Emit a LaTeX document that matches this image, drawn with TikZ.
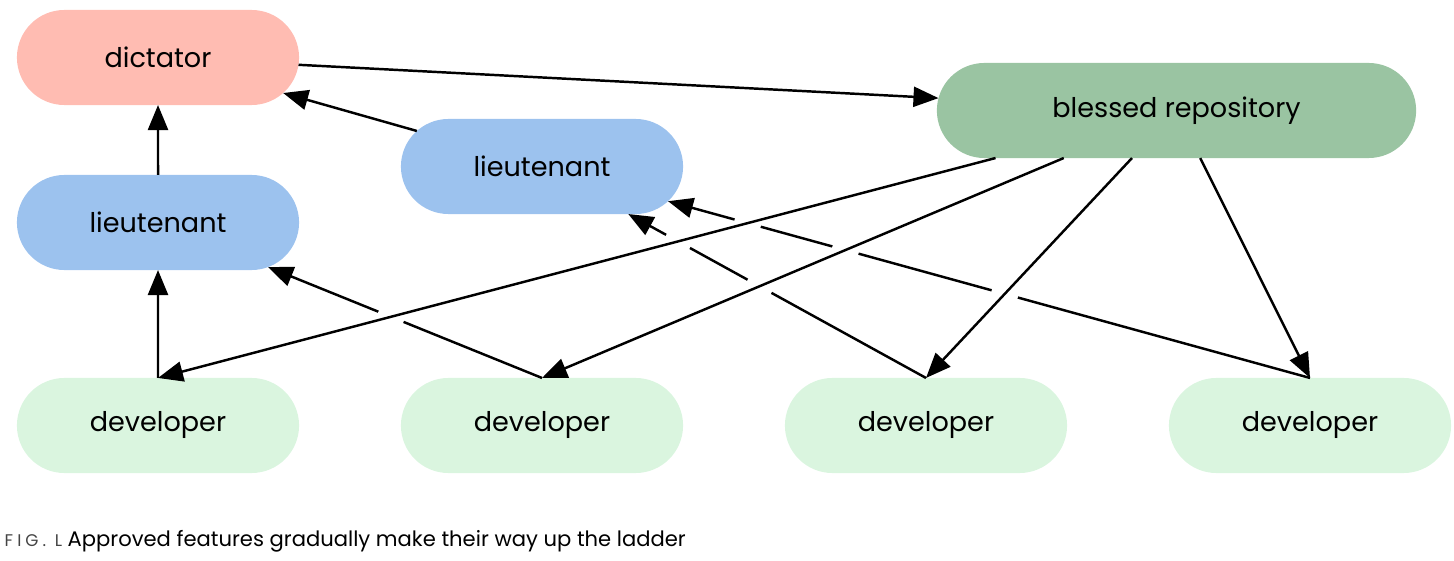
\documentclass[tikz,border=0pt]{standalone}
\usepackage{fontspec}
\setmainfont{Poppins}
\usetikzlibrary{shapes.misc, arrows.meta, calc, intersections}
\definecolor{dictred}{HTML}{FFBCB2}
\definecolor{ltblue}{HTML}{9CC2EE}
\definecolor{repogreen}{HTML}{9AC4A2}
\definecolor{devgreen}{HTML}{DAF5DF}
\definecolor{capgray}{HTML}{444444}
\tikzset{
  pill/.style={rounded rectangle, minimum width=2.82cm, minimum height=0.95cm,
    outer sep=0pt, inner sep=0pt, font=\fontsize{7.7}{9}\selectfont},
  flow/.style={-{Triangle[length=0.25cm,width=0.2cm]}, line width=0.7pt},
  gap/.style={draw=white, line width=2pt}
}
\begin{document}
\begin{tikzpicture}[x=0.01cm,y=-0.01cm]
\useasboundingbox (0,0) rectangle (1454,561);
%nodes
\node[pill, fill=dictred] (dict) at (158,57.5) {dictator};
\node[pill, fill=ltblue] (lt1) at (158,222.5) {lieutenant};
\node[pill, fill=ltblue] (lt2) at (542,166.5) {lieutenant};
\node[pill, fill=repogreen, minimum width=4.79cm] (bless) at (1176.5,110.5) {blessed repository};
\foreach \i/\x in {1/158, 2/542, 3/926, 4/1310}
  \node[pill, fill=devgreen] (dev\i) at (\x,425.5) {developer};

%up the ladder
\draw[flow] (dict) -- (bless);
\draw[flow] (lt2) -- (dict);
\draw[flow] (lt1) -- (dict);
\draw[flow] (dev1.north) -- (lt1);
\draw[flow, name path=up2] (dev2.north) -- (lt1);
\draw[flow, name path=up3] (dev3.north) -- (lt2);
\draw[flow, name path=up4] (dev4.north) -- (lt2);

%blessed repository to developers, with gaps in the lines below
\foreach \i in {1,...,4}
  \path[name path global=down\i] (bless) -- (dev\i.north);
\foreach \u/\d in {2/1, 3/1, 3/2, 4/1, 4/2, 4/3}{
  \path[name intersections={of={up\u} and {down\d}, by=cross}];
  \draw[gap] ($(cross)!0.135cm!(dev\u.north)$) -- ($(cross)!-0.135cm!(dev\u.north)$);
}
\foreach \i in {1,...,4}
  \draw[flow] (bless) -- (dev\i.north);

%caption
\node[anchor=base west, inner sep=0pt, font=\fontsize{6}{7}\selectfont] (cap) at (4,547)
  {{\color{capgray}\fontsize{4.8}{5}\selectfont\addfontfeature{LetterSpace=24}FIG. L}\ Approved features gradually make their way up the ladder};
\end{tikzpicture}
\end{document}
